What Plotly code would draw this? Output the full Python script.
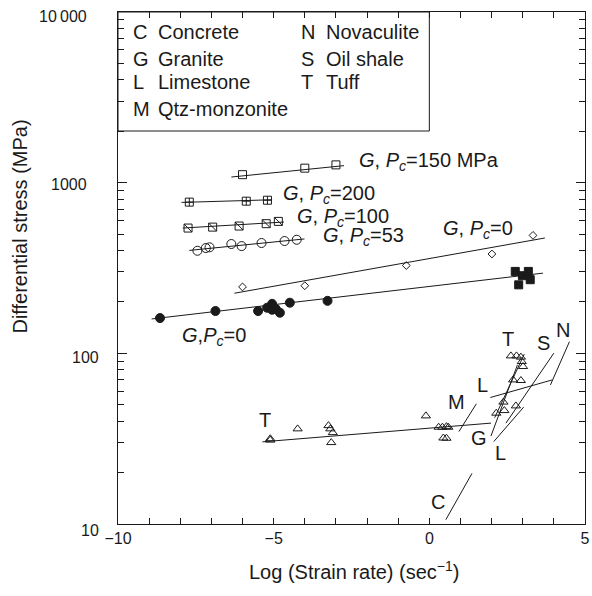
import math
import plotly.graph_objects as go

# ---------------- data ----------------
# Granite, confining pressure 150 MPa (open squares)
g150_x = [-6.0, -4.0, -3.0]
g150_y = [1114, 1216, 1271]
g150_fit_x = [-6.36, -2.74]
g150_fit_y = [1079, 1258]

# Granite, Pc = 200 (square with cross)
g200_x = [-7.71, -5.88, -5.20]
g200_y = [769, 779, 789]
g200_fit_x = [-7.96, -5.05]
g200_fit_y = [766, 794]

# Granite, Pc = 100 (square with diagonal)
g100_x = [-7.75, -6.96, -6.11, -5.24, -4.85]
g100_y = [542, 549, 557, 575, 593]
g100_fit_x = [-7.92, -4.67]
g100_fit_y = [542, 588]

# Granite, Pc = 53 (open circles)
g53_x = [-7.45, -7.18, -7.06, -6.36, -6.03, -5.39, -4.65, -4.26]
g53_y = [399, 414, 418, 437, 425, 443, 455, 463]
g53_fit_x = [-7.71, -4.01]
g53_fit_y = [401, 468]

# Granite, Pc = 0 (open diamonds)
g0a_x = [-6.0, -4.0, -0.74, 2.01, 3.33]
g0a_y = [245, 249, 327, 382, 491]
g0a_fit_x = [-6.26, 3.71]
g0a_fit_y = [225, 474]

# Granite, Pc = 0 (filled circles + filled squares)
g0b_x = [-8.65, -6.87, -5.50, -5.21, -5.05, -5.05, -4.93, -4.80, -4.48, -3.27]
g0b_y = [161, 177, 177, 185, 195, 180, 182, 173, 198, 203]
g0c_x = [2.76, 2.99, 3.18, 3.24, 2.87]
g0c_y = [302, 285, 302, 270, 252]
g0b_fit_x = [-8.92, 3.65]
g0b_fit_y = [159, 295]

# Tuff (open triangles)
tuff_x = [-5.11, -5.11, -4.23, -3.24, -3.18, -3.10, -3.15, -0.11, 0.30, 0.42, 0.55, 0.61,
          0.45, 0.55, 2.15, 2.38, 2.41, 2.78, 2.69, 2.94, 2.62, 2.80, 2.94, 2.97, 3.01]
tuff_y = [31.6, 31.0, 36.1, 37.7, 36.1, 34.3, 30.0, 43.0, 36.9, 36.9, 37.2, 36.9,
          31.9, 31.8, 44.6, 51.8, 46.2, 49.2, 69.9, 69.3, 96.6, 96.6, 95.0, 89.5, 83.7]

# fitted lines of the other rocks
tuff_fit_x = [-5.36, 1.98]
tuff_fit_y = [30.3, 39.0]
tuff_steep_x = [2.10, 3.05]
tuff_steep_y = [42.0, 99.0]
monz_fit_x = [0.95, 1.51]
monz_fit_y = [34.8, 50.6]
conc_fit_x = [0.53, 1.37]
conc_fit_y = [10.6, 19.8]
lime1_fit_x = [1.96, 3.95]
lime1_fit_y = [55.1, 69.9]
nova_fit_x = [3.89, 4.50]
nova_fit_y = [65.3, 117.0]
shale_fit_x = [2.46, 4.00]
shale_fit_y = [39.0, 100.3]
gran_fit_x = [1.98, 2.83]
gran_fit_y = [32.8, 85.6]
lime2_fit_x = [2.07, 3.03]
lime2_fit_y = [30.4, 48.4]

legend_left = [("C", "Concrete"), ("G", "Granite"), ("L", "Limestone"), ("M", "Qtz-monzonite")]
legend_right = [("N", "Novaculite"), ("S", "Oil shale"), ("T", "Tuff")]

y_tickvals = [10, 100, 1000, 10000]
y_ticktext = ["10", "100", "1000", "10\u2009000"]
x_tickvals = list(range(-10, 6))
x_ticktext = ["\u221210" if v == -10 else "\u22125" if v == -5 else "0" if v == 0 else "5" if v == 5 else "" for v in x_tickvals]

FONT = "Liberation Sans, Arial, Helvetica, sans-serif"
BLACK = "#1a1a1a"

W, H = 592, 596
ML, MR, MT, MB = 118, 2, 12, 72
pw, ph = W - ML - MR, H - MT - MB

def px_x(px):
    return (px - ML) / pw

def px_y(py):
    return (H - MB - py) / ph

fig = go.Figure()

def line(xs, ys):
    fig.add_trace(go.Scatter(x=xs, y=ys, mode="lines",
                             line=dict(color=BLACK, width=1), hoverinfo="skip"))

def pts(xs, ys, symbol, size):
    fig.add_trace(go.Scatter(x=xs, y=ys, mode="markers",
                             marker=dict(symbol=symbol, size=size, color=BLACK,
                                         line=dict(color=BLACK, width=1))))

for fx, fy in [(g150_fit_x, g150_fit_y), (g200_fit_x, g200_fit_y), (g100_fit_x, g100_fit_y),
               (g53_fit_x, g53_fit_y), (g0a_fit_x, g0a_fit_y), (g0b_fit_x, g0b_fit_y),
               (tuff_fit_x, tuff_fit_y), (tuff_steep_x, tuff_steep_y), (monz_fit_x, monz_fit_y),
               (conc_fit_x, conc_fit_y), (lime1_fit_x, lime1_fit_y), (nova_fit_x, nova_fit_y),
               (shale_fit_x, shale_fit_y), (gran_fit_x, gran_fit_y), (lime2_fit_x, lime2_fit_y)]:
    line(fx, fy)

pts(g150_x, g150_y, "square-open", 8)
pts(g200_x, g200_y, "square-cross-open", 8)
pts(g100_x, g100_y, "square-open", 8)
pts(g100_x, g100_y, "line-nw", 8)
pts(g53_x, g53_y, "circle-open", 9)
pts(g0a_x, g0a_y, "diamond-open", 6)
pts(g0b_x, g0b_y, "circle", 9)
pts(g0c_x, g0c_y, "square", 8)
pts(tuff_x, tuff_y, "triangle-up-open", 8)

annotations = []
def lab(x, ylog, text, anchor="left", size=20):
    annotations.append(dict(x=x, y=ylog, xref="x", yref="y", text=text, showarrow=False,
                            xanchor=anchor, yanchor="middle",
                            font=dict(family=FONT, size=size, color=BLACK)))

G = "<i>G</i>, <i>P<sub>c</sub></i>="
lab(-2.32, 3.125, G + "150 MPa")
lab(-4.78, 2.930, G + "200")
lab(-4.31, 2.793, G + "100")
lab(-3.48, 2.685, G + "53")
lab(0.39, 2.724, G + "0")
lab(-8.0, 2.0985, "<i>G</i>,<i>P<sub>c</sub></i>=0")

for x, yl, t in [(-5.27, 1.610, "T"), (0.87, 1.717, "M"), (1.72, 1.815, "L"), (1.61, 1.5026, "G"),
                 (2.30, 1.4147, "L"), (0.29, 1.131, "C"), (2.52, 2.085, "T"), (3.68, 2.060, "S"),
                 (4.30, 2.138, "N")]:
    lab(x, yl, t, anchor="center")

rows_y = [3.880, 3.727, 3.587, 3.434]
for i, (a, b) in enumerate(legend_left):
    lab(-9.58, rows_y[i], a)
    lab(-8.79, rows_y[i], b)
for i, (a, b) in enumerate(legend_right):
    lab(-4.19, rows_y[i], a)
    lab(-3.38, rows_y[i], b)

# y tick labels as text (the reference aligns the short and long labels differently)
label_right_edge = {10: 101, 100: 101, 1000: 89, 10000: 89}
label_drop = {10: 6, 100: 4.5, 1000: 2, 10000: 4.5}
for v, t in zip(y_tickvals, y_ticktext):
    ypix = (H - MB) - (math.log10(v) - 1) / 3 * ph + label_drop[v]
    annotations.append(dict(x=px_x(label_right_edge[v]), y=px_y(ypix), xref="paper", yref="paper",
                            text=t, showarrow=False, xanchor="right", yanchor="middle",
                            font=dict(family=FONT, size=16, color=BLACK)))

annotations.append(dict(x=px_x(18), y=px_y(226.5), xref="paper", yref="paper",
                        text="Differential stress (MPa)", showarrow=False, textangle=-90,
                        xanchor="center", yanchor="middle",
                        font=dict(family=FONT, size=20, color=BLACK)))
annotations.append(dict(x=px_x(357), y=px_y(570), xref="paper", yref="paper",
                        text="Log (Strain rate) (sec<sup>\u22121</sup>)", showarrow=False,
                        xanchor="center", yanchor="middle",
                        font=dict(family=FONT, size=20, color=BLACK)))

fig.update_layout(
    width=W, height=H,
    margin=dict(l=ML, r=MR, t=MT, b=MB),
    paper_bgcolor="white", plot_bgcolor="white",
    showlegend=False,
    font=dict(family=FONT, size=16, color=BLACK),
    annotations=annotations,
    shapes=[dict(type="rect", xref="x", yref="paper", x0=-10, x1=0,
                 y0=px_y(131), y1=1, line=dict(color=BLACK, width=1))],
    xaxis=dict(range=[-10, 5], tickvals=x_tickvals, ticktext=x_ticktext,
               ticks="inside", ticklen=6, tickcolor=BLACK, showgrid=False, zeroline=False,
               showline=True, linecolor=BLACK, linewidth=1, mirror="ticks",
               tickfont=dict(size=16), ticklabeloverflow="allow"),
    yaxis=dict(type="log", range=[1, 4], tickvals=y_tickvals, ticktext=y_ticktext,
               showticklabels=False,
               ticks="inside", ticklen=9, tickcolor=BLACK, showgrid=False, zeroline=False,
               showline=True, linecolor=BLACK, linewidth=1, mirror="ticks",
               minor=dict(ticks="inside", ticklen=6, tickcolor=BLACK, dtick="D1", showgrid=False)),
)

fig.write_html("out.html")
